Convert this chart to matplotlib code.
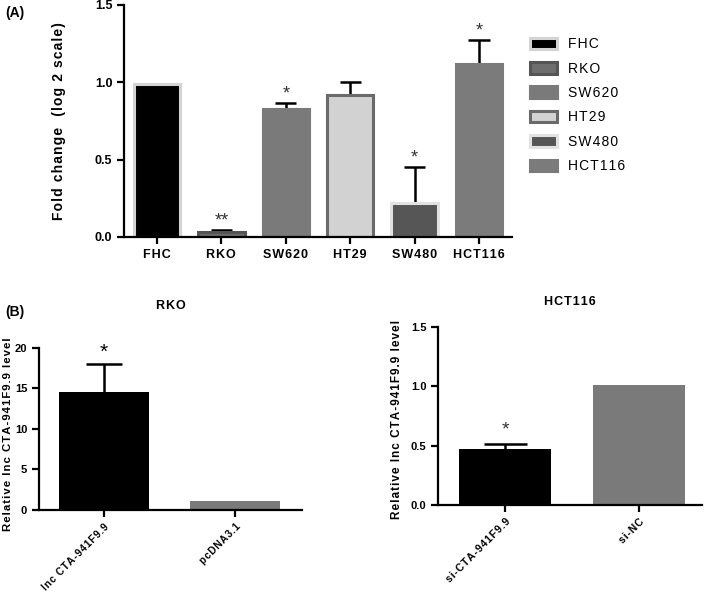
import numpy as np
import matplotlib
matplotlib.use("Agg")
from matplotlib import pyplot as plt

plt.rcParams['font.family'] = ['Liberation Sans', 'DejaVu Sans']

# panel A data
cells = ['FHC', 'RKO', 'SW620', 'HT29', 'SW480', 'HCT116']
fold = [0.99, 0.035, 0.83, 0.92, 0.22, 1.12]
fold_err = [0.0, 0.01, 0.035, 0.08, 0.23, 0.15]
fold_star = ['', '**', '*', '', '*', '*']
fills = ['#000000', '#6e6e6e', '#7a7a7a', '#d2d2d2', '#565656', '#7b7b7b']
edges = ['#d4d4d4', '#555555', '#7a7a7a', '#6a6a6a', '#e2e2e2', '#7b7b7b']

# panel B data
rko_groups = ['lnc CTA-941F9.9', 'pcDNA3.1']
rko_vals = [14.5, 1.1]
rko_err = [3.5, 0.0]
hct_groups = ['si-CTA-941F9.9', 'si-NC']
hct_vals = [0.47, 1.01]
hct_err = [0.04, 0.0]
b_colors = ['#000000', '#7a7a7a']


def sp(s, gap='\u200a'):
    # GraphPad style letter spacing
    return gap.join(s)


def style_axis(ax, size=8.5):
    for s in ['top', 'right']:
        ax.spines[s].set_visible(False)
    for s in ['left', 'bottom']:
        ax.spines[s].set_linewidth(1.6)
    ax.tick_params(width=1.6, length=5, labelsize=size)
    for t in ax.get_yticklabels():
        t.set_fontweight('bold')


def draw_err(ax, x, vals, errs, half):
    for xi, v, e in zip(x, vals, errs):
        if e > 0:
            ax.vlines(xi, v, v + e, color='black', lw=1.8, zorder=1)
            ax.hlines(v + e, xi - half, xi + half, color='black', lw=1.8, zorder=1)


fig = plt.figure(figsize=(7.09, 5.92), dpi=100)

# ---- (A) ----
axA = fig.add_axes([0.175, 0.5997, 0.547, 0.392])
x = np.arange(len(cells))
bars = axA.bar(x, fold, width=0.72, color=fills, edgecolor=edges, linewidth=2.2, zorder=2)
draw_err(axA, x, fold, fold_err, 0.165)
for xi, v, e, s in zip(x, fold, fold_err, fold_star):
    if s:
        axA.text(xi, v + e + 0.005, s, ha='center', va='bottom', fontsize=13, color='#333333')
axA.set_xlim(-0.51, 5.51)
axA.set_ylim(0, 1.5)
axA.set_yticks([0, 0.5, 1.0, 1.5])
style_axis(axA, 9)
axA.set_xticks(x)
axA.set_xticklabels([sp(c) for c in cells], fontweight='bold', fontsize=9)
axA.set_ylabel(sp('Fold change  (log 2 scale)'), fontweight='bold', fontsize=10)
axA.yaxis.set_label_coords(-0.15, 0.5)
axA.legend(bars, [sp(c) for c in cells], loc='upper left', bbox_to_anchor=(1.015, 0.915),
           frameon=False, fontsize=10, handlelength=1.9, handleheight=0.9,
           labelspacing=0.75, handletextpad=0.8)

# ---- (B) RKO ----
axB1 = fig.add_axes([0.055, 0.1385, 0.371, 0.274])
xb = np.arange(2)
axB1.bar(xb, rko_vals, width=0.69, color=b_colors, zorder=2)
draw_err(axB1, xb, rko_vals, rko_err, 0.14)
axB1.text(0, rko_vals[0] + rko_err[0] + 0.3, '*', ha='center', va='bottom', fontsize=15)
axB1.set_xlim(-0.496, 1.51)
axB1.set_ylim(0, 20)
axB1.set_yticks([0, 5, 10, 15, 20])
style_axis(axB1, 8)
axB1.set_xticks(xb)
axB1.set_xticklabels([sp(g) for g in rko_groups], rotation=45, ha='right',
                     rotation_mode='anchor', fontweight='bold', fontsize=7.2)
axB1.set_ylabel(sp('Relative lnc CTA-941F9.9 level'), fontweight='bold', fontsize=8.2)
axB1.yaxis.set_label_coords(-0.1, 0.47)
axB1.set_title(sp('RKO'), fontweight='bold', fontsize=9, pad=28)

# ---- (B) HCT116 ----
axB2 = fig.add_axes([0.618, 0.147, 0.372, 0.301])
axB2.bar(xb, hct_vals, width=0.69, color=b_colors, zorder=2)
draw_err(axB2, xb, hct_vals, hct_err, 0.16)
axB2.text(0, hct_vals[0] + hct_err[0] + 0.05, '*', ha='center', va='bottom', fontsize=14, color='#333333')
axB2.set_xlim(-0.5, 1.47)
axB2.set_ylim(0, 1.5)
axB2.set_yticks([0, 0.5, 1.0, 1.5])
style_axis(axB2, 8)
axB2.set_xticks(xb)
axB2.set_xticklabels([sp(g) for g in hct_groups], rotation=45, ha='right',
                     rotation_mode='anchor', fontweight='bold', fontsize=7.5)
axB2.set_ylabel(sp('Relative lnc CTA-941F9.9 level'), fontweight='bold', fontsize=8.5)
axB2.yaxis.set_label_coords(-0.135, 0.48)
axB2.set_title(sp('HCT116'), fontweight='bold', fontsize=9, pad=16)

fig.text(0.007, 0.978, '(A)', fontweight='bold', fontsize=10, va='center')
fig.text(0.007, 0.473, '(B)', fontweight='bold', fontsize=10, va='center')

fig.savefig('out.png', dpi=100)
